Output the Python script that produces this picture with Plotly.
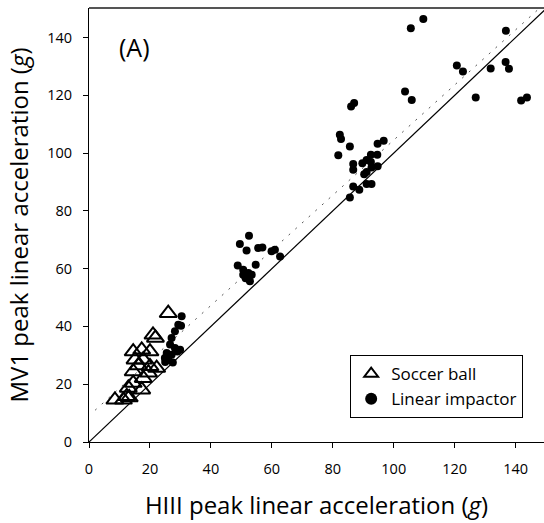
import plotly.graph_objects as go

# Soccer ball impacts (HIII vs MV1 peak linear acceleration, g)
soccer_x = [26.0, 21.0, 21.8, 14.5, 17.3, 20.0, 15.1, 17.8, 20.0, 22.2, 14.5,
            17.8, 14.5, 12.9, 17.3, 12.4, 8.5, 11.3, 13.2, 19.5, 16.2]
soccer_y = [44.6, 37.1, 36.0, 31.3, 31.9, 31.3, 28.5, 28.5, 26.2, 25.6, 24.4,
            22.1, 20.4, 18.7, 18.1, 15.8, 14.6, 14.6, 15.4, 24.0, 26.5]

# Linear impactor impacts
impactor_x = [30.4, 29.3, 30.2, 28.2, 27.1, 26.6, 28.2, 29.9, 25.5, 27.1, 24.9, 26.0, 25.0, 29.0, 27.5,
              52.5, 49.5, 51.7, 55.5, 56.9, 59.9, 61.0, 62.7, 48.8, 54.7, 50.6, 50.6, 52.3, 53.4, 51.4, 52.8,
              82.3, 82.7, 81.8, 85.6, 94.7, 96.7, 92.5, 94.6, 91.1, 89.7, 86.7, 86.7, 92.5, 94.7, 92.7,
              91.1, 90.3, 92.7, 91.1, 86.7, 88.7, 85.6, 87.0, 86.0,
              105.6, 109.7, 136.8, 120.7, 122.7, 131.8, 136.7, 137.8, 103.7, 105.9, 126.9, 141.8, 143.7]
impactor_y = [43.5, 40.6, 40.2, 38.3, 36.0, 33.7, 32.5, 31.9, 30.8, 30.2, 29.1, 28.5, 27.7, 31.3, 27.5,
              71.4, 68.5, 66.3, 67.1, 67.3, 66.0, 66.5, 64.2, 61.1, 61.3, 59.6, 57.9, 58.5, 57.9, 56.7, 55.6,
              106.3, 104.9, 99.2, 102.3, 103.2, 104.3, 99.4, 99.4, 97.6, 96.5, 96.2, 94.2, 96.9, 95.4, 95.0,
              93.4, 92.7, 89.3, 89.3, 88.4, 87.3, 84.6, 117.3, 116.1,
              143.2, 146.4, 142.3, 130.3, 128.2, 129.3, 131.5, 129.2, 121.3, 118.4, 119.2, 118.2, 119.2]

# Reference lines
unity_x = [0, 150]
unity_y = [0, 150]
fit_x = [2, 150]
fit_y = [11.0, 152.2]

x_ticks = [0, 20, 40, 60, 80, 100, 120, 140]
y_ticks = [0, 20, 40, 60, 80, 100, 120, 140]

FONT = "Open Sans"

fig = go.Figure()
fig.add_trace(go.Scatter(x=unity_x, y=unity_y, mode="lines",
                         line=dict(color="black", width=1.2), showlegend=False, hoverinfo="skip"))
fig.add_trace(go.Scatter(x=fit_x, y=fit_y, mode="lines",
                         line=dict(color="#555555", width=1, dash="2px,7px"),
                         showlegend=False, hoverinfo="skip"))
fig.add_trace(go.Scatter(x=soccer_x, y=soccer_y, mode="markers", name="Soccer ball",
                         marker=dict(symbol="triangle-up-open", size=15, color="black",
                                     line=dict(width=2, color="black"))))
fig.add_trace(go.Scatter(x=impactor_x, y=impactor_y, mode="markers", name="Linear impactor",
                         marker=dict(symbol="circle", size=8, color="black")))

fig.add_annotation(x=0.062, y=0.955, xref="paper", yref="paper", text="(A)",
                   showarrow=False, xanchor="left", yanchor="top",
                   font=dict(family=FONT, size=25, color="black"))

fig.add_shape(type="line", xref="paper", yref="paper", x0=0, x1=1, y0=1, y1=1,
              line=dict(color="#555555", width=2))

fig.update_layout(
    width=544, height=523,
    margin=dict(l=89, r=0, t=8, b=81),
    paper_bgcolor="white", plot_bgcolor="white",
    font=dict(family=FONT, size=14.5, color="black"),
    showlegend=True,
    legend=dict(x=0.574, y=0.2, xanchor="left", yanchor="top",
                bordercolor="black", borderwidth=1, bgcolor="white",
                font=dict(family=FONT, size=17, color="black"),
                itemsizing="constant", tracegroupgap=0),
    xaxis=dict(range=[0, 149.3], tickvals=x_ticks, showgrid=False, zeroline=False,
               automargin=False,
               showline=True, linecolor="black", linewidth=1, ticks="outside",
               ticklen=5, tickcolor="black", ticklabelstandoff=9,
               title=dict(text="HIII peak linear acceleration (<i>g</i>)",
                          font=dict(family=FONT, size=24), standoff=19)),
    yaxis=dict(range=[0, 150.2], tickvals=y_ticks, showgrid=False, zeroline=False,
               automargin=False,
               showline=True, linecolor="black", linewidth=1, ticks="outside",
               ticklen=5, tickcolor="black", ticklabelstandoff=8,
               title=dict(text="MV1 peak linear acceleration (<i>g</i>)",
                          font=dict(family=FONT, size=24), standoff=11)),
)

fig.write_html("out.html", post_script="document.body.style.margin='0';",
               config={"displayModeBar": False})
